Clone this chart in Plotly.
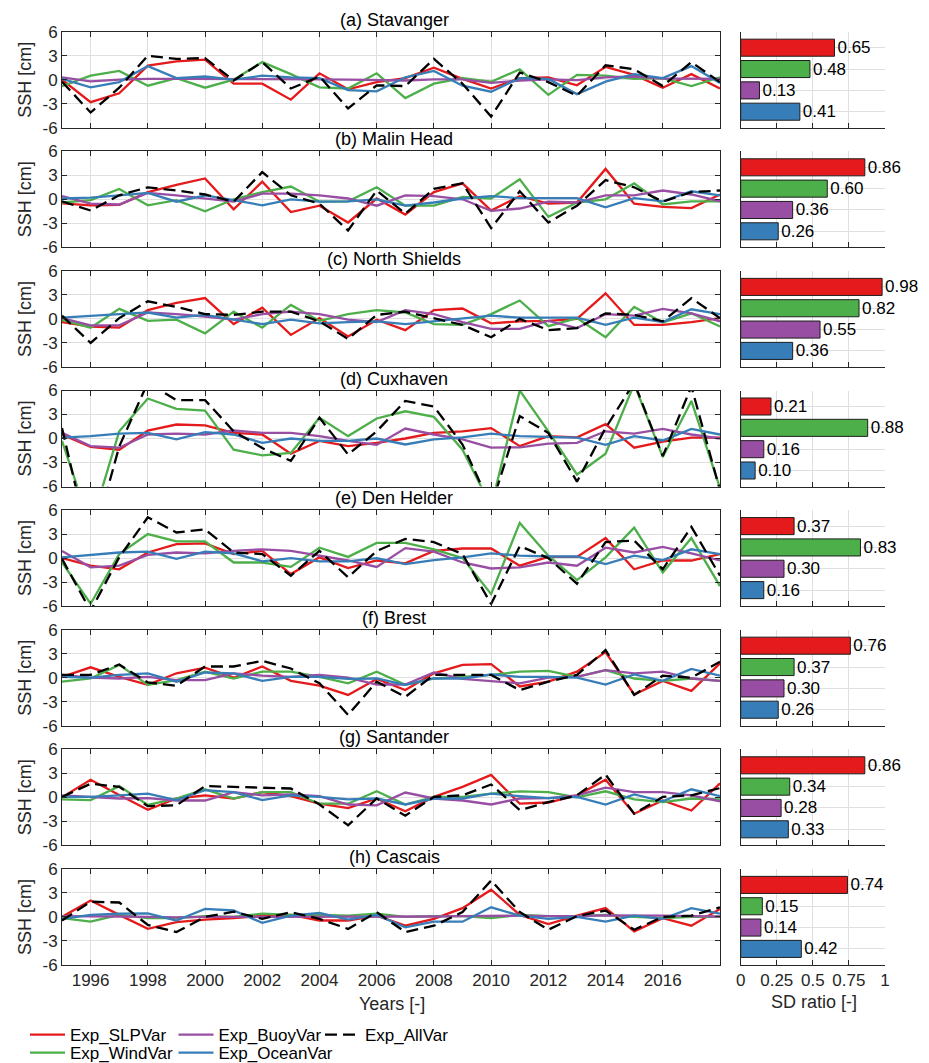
import plotly.graph_objects as go

# ---------------------------------------------------------------------------
# Annual sea-surface-height anomalies [cm], 1995-2018, per tide gauge
# ---------------------------------------------------------------------------
years = list(range(1995, 2019))

stavanger_slp = [0.0, -2.8, -1.7, 1.75, 2.3, 2.5, -0.5, -0.5, -2.5, 0.8, -1.2, -0.3, 0.2, 1.5, 0.1, -1.1, 0.2, 0.3, -0.7, 1.6, 0.6, -1.0, 0.7, -1.1]
stavanger_wind = [-0.8, 0.5, 1.1, -0.75, 0.2, -1.0, 0.0, 2.2, 0.7, -0.95, -1.1, 0.8, -2.3, -0.5, 0.2, -0.25, 1.3, -1.9, 0.6, 0.5, 0.1, 0.2, -0.8, 0.3]
stavanger_buoy = [0.3, -0.2, 0.0, 0.1, 0.1, 0.1, 0.05, 0.05, 0.05, 0.05, 0.0, -0.05, -0.1, 0.05, 0.05, -0.4, -0.1, 0.05, -0.05, 0.3, 0.4, 0.15, 0.1, 0.1]
stavanger_ocean = [0.1, -0.95, -0.3, 1.7, 0.2, 0.4, 0.0, 0.5, 0.3, 0.2, -1.3, -1.45, 0.3, 1.1, -0.75, -1.5, 0.2, 0.1, -1.8, -0.25, 0.7, 0.2, 1.7, -0.4]
stavanger_all = [-0.25, -4.1, -1.0, 3.0, 2.6, 2.7, -0.1, 2.2, -1.1, 0.4, -3.6, -0.7, -0.8, 2.6, -0.5, -4.6, 0.9, -0.3, -2.0, 1.8, 1.3, -0.8, 2.2, -0.3]

malin_slp = [-0.5, -0.75, -0.7, 0.9, 1.8, 2.6, -1.25, 2.2, -1.6, -0.8, -2.9, 0.1, -1.9, 0.9, 2.0, -1.4, 0.4, -0.55, -0.4, 3.8, -0.55, -0.95, -1.1, 0.6]
malin_wind = [-0.4, -0.1, 1.3, -0.75, -0.1, -1.5, 0.0, 0.9, 1.6, -0.3, -0.25, 1.5, -0.8, -0.8, 0.3, 0.1, 2.5, -2.2, -0.4, 0.0, 2.0, -0.65, -0.25, -0.25]
malin_buoy = [0.4, -0.55, -0.65, 0.8, 0.5, 0.1, -0.3, 0.7, 0.7, 0.5, 0.1, -0.8, 0.5, 0.4, 0.0, -1.45, -1.15, -0.3, -0.4, 0.5, 0.5, 1.1, 0.6, -0.25]
malin_ocean = [0.1, 0.2, 0.5, 0.8, -0.3, 0.5, -0.1, -0.75, 0.0, -0.3, -0.25, 0.0, -0.8, -0.4, 0.1, 0.4, 0.15, 0.15, 0.15, -1.0, 0.15, -0.25, 1.0, 0.5]
malin_all = [-0.25, -1.4, 0.5, 1.5, 1.1, 0.6, -0.3, 3.4, 0.5, -0.55, -3.9, 1.1, -1.8, 1.3, 2.0, -3.6, 1.0, -2.9, -0.8, 2.4, 1.5, -0.3, 0.9, 1.1]

shields_slp = [-0.4, -0.95, -1.1, 1.1, 2.0, 2.6, -0.65, 1.4, -2.0, 0.1, -2.2, -0.1, -1.4, 1.1, 1.3, -0.55, -0.3, -0.25, 0.0, 3.2, -0.75, -0.75, -0.4, 0.1]
shields_wind = [-0.1, -1.1, 1.25, -0.25, -0.1, -1.8, 0.9, -1.1, 1.75, -0.25, 0.6, 1.1, 0.8, -0.65, -0.75, 0.6, 2.3, -0.9, 0.1, -2.3, 1.5, -0.45, 0.7, -0.95]
shields_buoy = [0.1, -0.8, -0.8, 0.8, 0.6, 0.3, -0.1, 0.6, 0.9, 0.6, -0.1, -0.4, 1.1, 0.6, -0.4, -1.25, -1.25, -0.25, -1.15, 0.6, 0.4, 1.25, 0.7, -0.3]
shields_ocean = [0.15, 0.4, 0.6, 0.8, 0.15, 0.5, -0.1, -0.65, -0.1, -0.55, -0.4, -0.3, -0.65, -0.3, 0.0, 0.4, 0.15, 0.15, 0.15, -0.75, 0.15, -0.4, 1.2, 0.6]
shields_all = [0.4, -3.0, 0.1, 2.2, 1.5, 0.6, 0.5, 0.9, 0.9, -0.3, -2.5, 0.5, 0.9, 0.1, -0.75, -2.3, 0.0, -1.4, -1.15, 0.7, 0.5, -0.3, 2.6, 0.1]

cuxhaven_slp = [0.5, -1.05, -1.4, 1.0, 1.75, 1.65, 0.7, 0.5, -1.9, -0.3, -0.95, -0.55, 0.0, 0.7, 0.9, 1.3, -0.95, 0.3, 0.15, 1.8, -1.15, -0.4, 0.1, 0.1]
cuxhaven_wind = [-0.3, -11.0, 0.9, 5.0, 3.7, 3.5, -1.4, -2.1, -1.8, 2.6, 0.3, 2.5, 3.4, 2.7, -1.4, -8.5, 6.0, 0.9, -4.5, -1.9, 6.8, -2.3, 4.7, -6.2]
cuxhaven_buoy = [0.7, -0.95, -1.15, 0.5, 0.6, 0.5, 1.0, 0.7, 0.7, 0.3, -0.3, -0.8, 1.25, 0.5, -0.1, -1.15, -1.1, -0.65, -0.55, 0.9, 0.6, 1.2, 0.5, 0.0]
cuxhaven_ocean = [0.1, 0.3, 0.6, 0.7, -0.1, 0.8, 0.5, -0.55, 0.0, -0.3, -0.3, 0.0, -0.75, -0.1, 0.15, 0.6, 0.3, 0.2, 0.1, -0.8, 0.3, -0.25, 1.2, 0.5]
cuxhaven_all = [1.3, -14.0, -1.0, 7.0, 4.8, 4.8, 0.9, -1.2, -2.8, 2.6, -2.0, 0.9, 4.7, 4.0, -0.75, -8.5, 2.8, 0.7, -5.4, 1.3, 7.0, -2.2, 6.5, -6.5]

denhelder_slp = [0.0, -0.95, -1.4, 0.7, 1.75, 1.85, 0.5, 0.9, -2.0, 0.1, -1.25, -0.3, -0.65, 0.9, 1.2, 1.2, -0.95, 0.15, 0.15, 2.5, -1.4, -0.3, -0.3, 0.5]
denhelder_wind = [-0.55, -5.7, 0.5, 3.0, 2.1, 2.1, -0.55, -0.55, -1.1, 1.3, 0.15, 1.9, 1.9, 1.1, 0.0, -4.5, 4.4, 0.3, -2.75, 0.1, 3.8, -1.8, 2.5, -3.5]
denhelder_buoy = [0.9, -1.15, -0.95, 0.4, 0.7, 0.6, 0.9, 1.1, 0.9, 0.3, -0.3, -1.1, 1.25, 0.8, -0.55, -1.3, -1.15, -0.55, -0.95, 1.3, 0.7, 1.4, 0.6, -0.3]
denhelder_ocean = [0.1, 0.4, 0.7, 0.8, -0.1, 0.8, 0.6, -0.4, 0.0, -0.4, -0.4, 0.0, -0.75, -0.25, 0.1, 0.6, 0.3, 0.2, 0.2, -0.75, 0.3, -0.25, 1.1, 0.5]
denhelder_all = [-0.1, -6.6, 0.1, 5.1, 3.2, 3.6, 0.7, 0.5, -2.2, 0.9, -2.4, 0.9, 2.4, 2.0, 0.5, -5.75, 1.5, 0.0, -3.2, 2.0, 2.2, -1.4, 3.9, -2.2]

brest_slp = [0.1, 1.3, 0.1, -0.9, 0.55, 1.25, 0.0, 1.4, -0.4, -1.0, -2.15, -0.15, -1.55, 0.55, 1.6, 1.7, -1.1, -0.5, 0.75, 3.2, -2.1, -0.4, -1.65, 1.8]
brest_wind = [-0.5, -0.1, 1.6, -0.9, -0.3, 0.75, -0.1, 0.75, 0.75, 0.1, -0.7, 0.75, -0.9, -0.1, 0.1, 0.35, 0.75, 0.85, 0.1, 0.95, -0.1, -0.4, -0.1, -0.4]
brest_buoy = [0.35, 0.0, -0.1, 0.1, -0.3, -0.3, 0.55, 0.25, 0.1, 0.35, 0.0, -0.85, -0.85, 0.65, -0.15, -0.4, -0.7, 0.0, 0.1, 0.95, 0.55, 0.75, -0.1, -0.4]
brest_ocean = [0.1, 0.0, 0.35, 0.55, -0.5, 0.65, 0.55, -0.4, 0.1, 0.1, -0.15, -0.1, -0.9, -0.1, -0.1, 0.4, 0.1, 0.1, 0.0, -0.85, 0.4, -0.4, 1.1, 0.25]
brest_all = [0.35, 0.35, 1.65, -0.6, -1.0, 1.4, 1.4, 2.1, 1.15, -0.7, -4.65, -0.5, -2.4, 0.35, 0.35, 0.35, -1.55, -0.5, 0.35, 3.45, -2.15, 0.25, 0.0, 2.0]

santander_slp = [0.0, 2.2, 0.3, -1.55, -0.15, 0.25, -0.15, 0.65, 0.15, -0.8, -1.35, -0.15, -1.75, 0.05, 1.3, 2.8, -0.8, -0.65, 0.25, 2.2, -2.05, -0.4, -1.65, 1.75]
santander_wind = [-0.25, -0.35, 1.4, -0.95, -0.15, 1.0, -0.15, 0.65, 0.65, -0.8, -0.8, 0.75, -0.9, 0.05, 0.05, 0.45, 0.75, 0.65, 0.0, 0.75, -0.25, -0.6, -0.15, -0.25]
santander_buoy = [0.25, 0.05, -0.15, -0.1, -0.4, -0.4, 0.65, 0.25, 0.35, 0.15, -0.9, -1.0, 0.6, -0.15, -0.4, -0.9, -0.15, -0.1, 0.25, 1.2, 0.65, 0.65, 0.25, -0.5]
santander_ocean = [0.05, 0.05, 0.25, 0.45, -0.35, 0.9, 0.65, -0.35, 0.25, 0.05, -0.25, -0.15, -0.9, -0.15, -0.15, 0.45, 0.15, -0.1, 0.05, -0.9, 0.35, -0.5, 1.0, 0.15]
santander_all = [0.05, 1.7, 1.3, -1.1, -1.0, 1.4, 1.3, 1.2, 1.1, -0.9, -3.5, -0.15, -2.3, 0.05, 0.25, 1.6, -1.6, -0.6, 0.25, 2.85, -2.05, 0.05, 0.25, 1.15]

cascais_slp = [0.0, 2.05, 0.25, -1.5, -0.65, -0.35, -0.15, 0.15, 0.25, -0.45, -0.45, 0.15, -1.1, -0.25, 1.1, 3.4, 0.25, -0.9, 0.15, 1.1, -1.8, -0.15, -1.1, 1.0]
cascais_wind = [-0.15, -0.6, 0.25, -0.15, -0.15, 0.1, 0.0, 0.4, 0.25, 0.25, 0.15, 0.4, 0.0, 0.1, 0.1, -0.15, 0.25, 0.1, 0.1, 0.25, 0.0, -0.15, 0.0, 0.0]
cascais_buoy = [0.1, 0.1, 0.05, 0.0, -0.05, 0.0, 0.0, 0.05, 0.05, 0.05, 0.0, 0.05, 0.05, 0.05, 0.1, 0.15, 0.15, 0.1, 0.1, 0.2, 0.2, 0.15, 0.1, 0.05]
cascais_ocean = [-0.25, 0.25, 0.4, 0.45, -0.45, 1.0, 0.8, -0.75, 0.15, 0.5, -0.35, 0.25, -1.3, -0.6, -0.6, 1.2, 0.15, -0.25, 0.0, -0.6, 0.15, -0.25, 1.1, 0.4]
cascais_all = [-0.45, 1.9, 1.8, -1.0, -1.9, 0.0, 0.65, -0.25, 0.6, -0.25, -1.5, 0.6, -1.9, -1.1, 0.6, 4.55, 0.6, -1.6, 0.1, 0.8, -1.6, 0.0, 0.15, 1.2]

# SD ratio of each experiment relative to Exp_AllVar
sd_slp = [0.65, 0.86, 0.98, 0.21, 0.37, 0.76, 0.86, 0.74]
sd_wind = [0.48, 0.60, 0.82, 0.88, 0.83, 0.37, 0.34, 0.15]
sd_buoy = [0.13, 0.36, 0.55, 0.16, 0.30, 0.30, 0.28, 0.14]
sd_ocean = [0.41, 0.26, 0.36, 0.10, 0.16, 0.26, 0.33, 0.42]

station_titles = ["(a) Stavanger", "(b) Malin Head", "(c) North Shields", "(d) Cuxhaven",
                  "(e) Den Helder", "(f) Brest", "(g) Santander", "(h) Cascais"]
year_ticks = [1996, 1998, 2000, 2002, 2004, 2006, 2008, 2010, 2012, 2014, 2016]
ssh_ticks = [-6, -3, 0, 3, 6]
ratio_ticks = [0, 0.25, 0.5, 0.75, 1]
ratio_ticktext = ["0", "0.25", "0.5", "0.75", "1"]

series_names = ["Exp_SLPVar", "Exp_WindVar", "Exp_BuoyVar", "Exp_OceanVar", "Exp_AllVar"]
station_series = [
    (stavanger_slp, stavanger_wind, stavanger_buoy, stavanger_ocean, stavanger_all),
    (malin_slp, malin_wind, malin_buoy, malin_ocean, malin_all),
    (shields_slp, shields_wind, shields_buoy, shields_ocean, shields_all),
    (cuxhaven_slp, cuxhaven_wind, cuxhaven_buoy, cuxhaven_ocean, cuxhaven_all),
    (denhelder_slp, denhelder_wind, denhelder_buoy, denhelder_ocean, denhelder_all),
    (brest_slp, brest_wind, brest_buoy, brest_ocean, brest_all),
    (santander_slp, santander_wind, santander_buoy, santander_ocean, santander_all),
    (cascais_slp, cascais_wind, cascais_buoy, cascais_ocean, cascais_all),
]

# ---------------------------------------------------------------------------
# Styling
# ---------------------------------------------------------------------------
W, H = 929, 1063
FONT = "Liberation Sans, Arial, Helvetica, sans-serif"
INK = "#262626"
GRID = "#dfdfdf"
RED, GREEN, PURPLE, BLUE = "#E41A1C", "#4DAF4A", "#984EA3", "#377EB8"
series_colors = [RED, GREEN, PURPLE, BLUE, "black"]
series_dash = ["solid", "solid", "solid", "solid", "12px,6px"]
LINE_W = 2.3

# one small legend per experiment: (left px, row-centre px)
legend_ids = ["legend", "legend2", "legend3", "legend4", "legend5"]
legend_spots = [(25, 1035), (25, 1053), (173.5, 1035), (173.5, 1053), (320, 1035)]

LINE_X0, LINE_X1 = 62, 720
BAR_X0, BAR_X1 = 740.7, 885
PANEL_TOP0, PANEL_STEP, PANEL_H = 31.7, 119.6, 96


def px_x(v):
    return v / W


def px_y(v):
    return 1 - v / H


def ax_name(kind, k):
    return kind if k == 1 else f"{kind}{k}"


fig = go.Figure()
axes = {}
annotations = []

for i, title in enumerate(station_titles):
    top = PANEL_TOP0 + i * PANEL_STEP
    bottom = top + PANEL_H
    ydom = [px_y(bottom), px_y(top)]
    last = i == len(station_titles) - 1
    kl, kb = 2 * i + 1, 2 * i + 2

    # time-series panel
    for s, values in enumerate(station_series[i]):
        fig.add_trace(go.Scatter(
            x=years, y=values, mode="lines", name=series_names[s],
            line=dict(color=series_colors[s], width=LINE_W, dash=series_dash[s]),
            showlegend=(i == 0), legend=legend_ids[s],
            xaxis=ax_name("x", kl), yaxis=ax_name("y", kl),
            hoverinfo="skip",
        ))

    frame = dict(showline=True, linecolor=INK, linewidth=1, mirror="ticks",
                 ticks="inside", ticklen=5, tickwidth=1, tickcolor=INK,
                 showgrid=True, gridcolor=GRID, gridwidth=1, zeroline=False,
                 tickfont=dict(family=FONT, size=17, color=INK))
    axes[ax_name("xaxis", kl)] = dict(
        frame, domain=[px_x(LINE_X0), px_x(LINE_X1)], anchor=ax_name("y", kl),
        range=[1995, 2018], tickvals=year_ticks, showticklabels=last,
    )
    axes[ax_name("yaxis", kl)] = dict(
        frame, domain=ydom, anchor=ax_name("x", kl), range=[-6, 6],
        tickvals=ssh_ticks, ticktext=[str(t) for t in ssh_ticks],
    )

    # SD-ratio bars: red on top, blue at the bottom
    ratios = [sd_ocean[i], sd_buoy[i], sd_wind[i], sd_slp[i]]
    fig.add_trace(go.Bar(
        x=ratios, y=[1, 2, 3, 4], orientation="h", width=0.8,
        marker=dict(color=[BLUE, PURPLE, GREEN, RED], line=dict(color="#1e1e1e", width=1)),
        text=[f"{v:.2f}" for v in ratios], textposition="outside",
        textfont=dict(family=FONT, size=17, color="black"),
        constraintext="none", cliponaxis=False, showlegend=False,
        xaxis=ax_name("x", kb), yaxis=ax_name("y", kb), hoverinfo="skip",
    ))
    axes[ax_name("xaxis", kb)] = dict(
        domain=[px_x(BAR_X0), px_x(BAR_X1)], anchor=ax_name("y", kb),
        range=[0, 1], tickvals=ratio_ticks, ticktext=ratio_ticktext,
        showticklabels=last, showline=True, linecolor=INK, linewidth=1,
        ticks="inside", ticklen=5, tickcolor=INK, showgrid=True, gridcolor=GRID,
        zeroline=False, tickfont=dict(family=FONT, size=17, color=INK),
    )
    axes[ax_name("yaxis", kb)] = dict(
        domain=ydom, anchor=ax_name("x", kb), range=[0.25, 4.75],
        tickvals=[1, 2, 3, 4], showticklabels=False, ticks="",
        showline=True, linecolor=INK, linewidth=1, showgrid=True,
        gridcolor=GRID, zeroline=False,
    )

    annotations.append(dict(
        text=title, x=px_x((LINE_X0 + LINE_X1) / 2 + 3), y=px_y(top - 12),
        xref="paper", yref="paper", showarrow=False, xanchor="center", yanchor="middle",
        font=dict(family=FONT, size=18, color="black"),
    ))
    annotations.append(dict(
        text="SSH [cm]", x=px_x(25), y=px_y(top + PANEL_H / 2),
        xref="paper", yref="paper", showarrow=False, textangle=-90,
        xanchor="center", yanchor="middle",
        font=dict(family=FONT, size=18, color=INK),
    ))

annotations.append(dict(
    text="Years [-]", x=px_x(392), y=px_y(1004), xref="paper", yref="paper",
    showarrow=False, xanchor="center", yanchor="middle",
    font=dict(family=FONT, size=18, color=INK),
))
annotations.append(dict(
    text="SD ratio [-]", x=px_x(814), y=px_y(1002), xref="paper", yref="paper",
    showarrow=False, xanchor="center", yanchor="middle",
    font=dict(family=FONT, size=18, color=INK),
))

legends = {}
for lid, (lx, ly) in zip(legend_ids, legend_spots):
    legends[lid] = dict(
        orientation="h", xanchor="left", yanchor="middle",
        x=px_x(lx), y=px_y(ly),
        font=dict(family=FONT, size=17, color="black"), bgcolor="rgba(0,0,0,0)",
        itemwidth=35, borderwidth=0,
    )

fig.update_layout(
    width=W, height=H,
    margin=dict(l=0, r=0, t=0, b=0, autoexpand=False),
    paper_bgcolor="white", plot_bgcolor="white",
    font=dict(family=FONT, color=INK),
    annotations=annotations,
    **legends,
    **axes,
)

fig.write_html("out.html", post_script="document.body.style.margin = '0';")
